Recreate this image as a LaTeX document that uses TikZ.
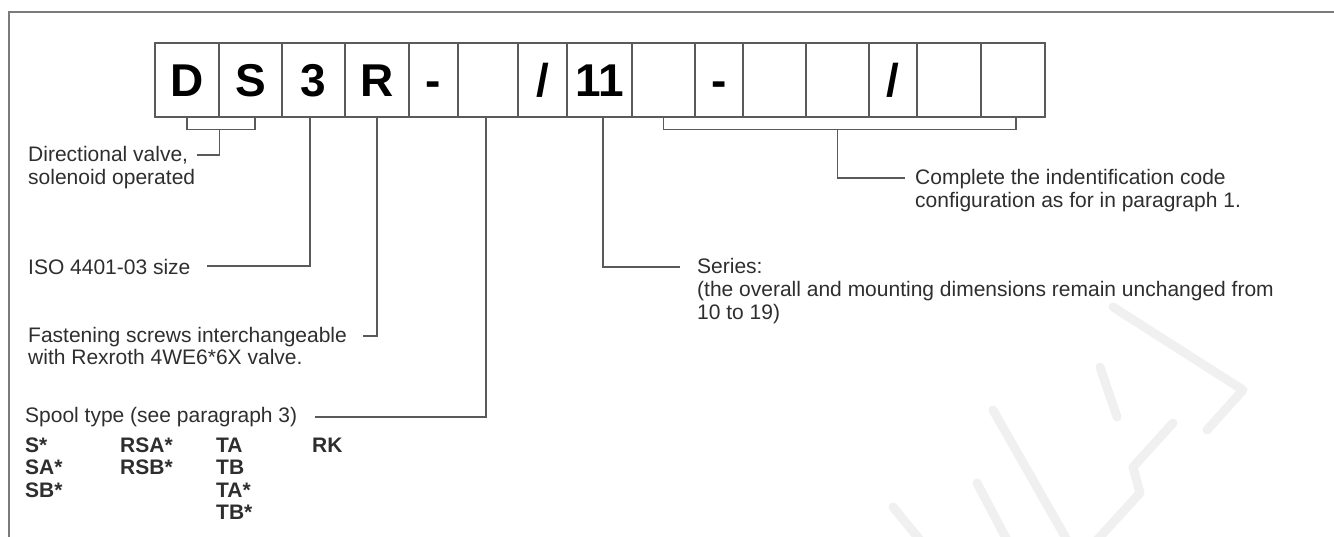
\documentclass[tikz,border=0pt]{standalone}
\usepackage{fontspec}
\setmainfont{Liberation Sans}
\definecolor{txt}{HTML}{2E2E2E}
\definecolor{ln}{HTML}{5A5A5A}
\definecolor{wm}{HTML}{F0F0F0}
\begin{document}
\begin{tikzpicture}[x=1pt,y=-1pt,
  box/.style={draw=ln, line width=1.3pt, inner sep=0pt, minimum height=74pt,
    text height=33pt, text depth=0pt, font=\fontsize{46}{46}\selectfont\bfseries, text=black},
  conn/.style={draw=ln, line width=1.4pt},
  lab/.style={anchor=base west, inner sep=0pt, font=\fontsize{21}{23}\selectfont, text=txt},
  blab/.style={lab, font=\fontsize{21}{23}\selectfont\bfseries},
  wmark/.style={draw=wm, line width=9pt, line cap=round, line join=round}]
\useasboundingbox (0,0) rectangle (1334,537);
% faint watermark
\draw[wmark] (1113,307) -- (1243,390) -- (1207,430);
\draw[wmark] (1100,367) -- (1117,417);
\draw[wmark] (993,410) -- (1067,540);
\draw[wmark] (1173,423) -- (1133,467) -- (1140,493) -- (1097,540);
\draw[wmark] (977,483) -- (1007,540);
\draw[wmark] (893,507) -- (920,540);
% frame
\draw[draw=ln!80, line width=1.5pt] (1334,12) -- (9,12) -- (9,537);
% code boxes
\node[box, minimum width=64pt] (b1) at (187,80) {D};
\node[box, minimum width=63pt] (b2) at (250.5,80) {S};
\node[box, minimum width=63pt] (b3) at (313.5,80) {3};
\node[box, minimum width=64pt] (b4) at (377,80) {R};
\node[box, minimum width=49pt] (b5) at (433.5,80) {-};
\node[box, minimum width=60pt] (b6) at (488,80) {};
\node[box, minimum width=49pt] (b7) at (542.5,80) {/};
\node[box, minimum width=65pt] (b8) at (599.5,80) {11};
\node[box, minimum width=63pt] (b9) at (663.5,80) {};
\node[box, minimum width=48pt] (b10) at (719,80) {-};
\node[box, minimum width=63pt] (b11) at (774.5,80) {};
\node[box, minimum width=63pt] (b12) at (837.5,80) {};
\node[box, minimum width=48pt] (b13) at (893,80) {/};
\node[box, minimum width=64pt] (b14) at (949,80) {};
\node[box, minimum width=64pt] (b15) at (1013,80) {};
% labels
\node[lab] (t1) at (28,162) {Directional valve,};
\node[lab] (t1b) at (28,185) {solenoid operated};
\node[lab] (t2) at (28,275) {ISO 4401-03 size};
\node[lab] (t3) at (28,343) {Fastening screws interchangeable};
\node[lab] (t3b) at (28,365) {with Rexroth 4WE6*6X valve.};
\node[lab] (t4) at (25,422) {Spool type (see paragraph 3)};
\node[blab] (s1) at (25,452) {S*};
\node[blab] (s2) at (25,474) {SA*};
\node[blab] (s3) at (25,497) {SB*};
\node[blab] (s4) at (120,452) {RSA*};
\node[blab] (s5) at (120,474) {RSB*};
\node[blab] (s6) at (216,452) {TA};
\node[blab] (s7) at (216,474) {TB};
\node[blab] (s8) at (216,497) {TA*};
\node[blab] (s9) at (216,519) {TB*};
\node[blab] (s10) at (312,452) {RK};
\node[lab] (t5) at (915,185) {Complete the indentification code};
\node[lab] (t5b) at (915,208) {configuration as for in paragraph 1.};
\node[lab] (t6) at (697,274) {Series:};
\node[lab] (t6b) at (697,297) {(the overall and mounting dimensions remain unchanged from};
\node[lab] (t6c) at (697,320) {10 to 19)};
% connector free ends
\coordinate (dsend) at (197,155);
\coordinate (isoend) at (207,266);
\coordinate (rend) at (363,336);
\coordinate (spend) at (315,417);
\coordinate (seend) at (680,267);
\coordinate (coend) at (905,178);
% connectors
\draw[conn] (b1.south) -- ++(0,12) -| ([xshift=4.5pt]b2.south);
\draw[conn] (b1.south east) ++(0,12) |- (dsend);
\draw[conn] ([xshift=-3.5pt]b3.south) |- (isoend);
\draw[conn] (b4.south) |- (rend);
\draw[conn] ([xshift=-2pt]b6.south) |- (spend);
\draw[conn] ([xshift=3.5pt]b8.south) |- (seend);
\draw[conn] (b9.south) -- ++(0,12) -| ([xshift=3pt]b15.south);
\draw[conn] (b12.south) ++(0,12) |- (coend);
\end{tikzpicture}
\end{document}
